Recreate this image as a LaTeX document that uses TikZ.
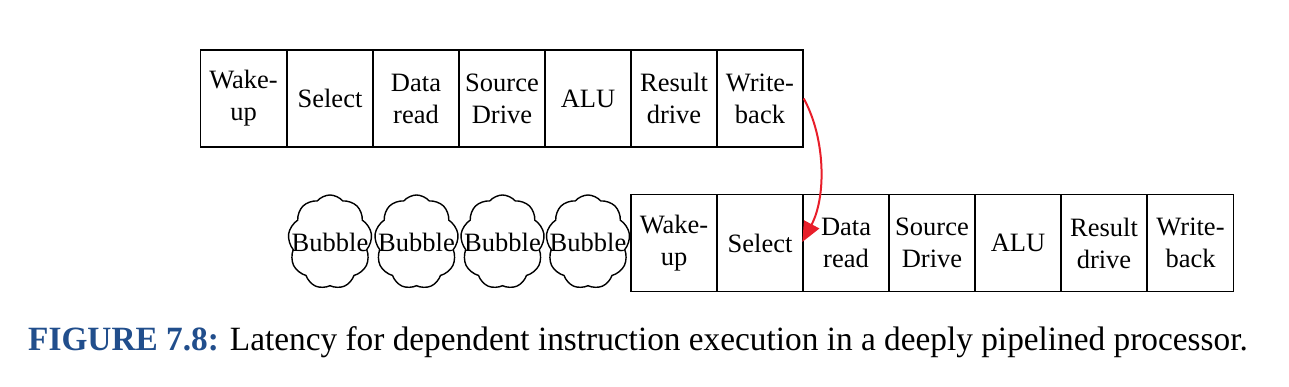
\documentclass[tikz,border=0pt]{standalone}
\usepackage{fontspec}
\setmainfont{Liberation Serif}
\usetikzlibrary{shapes.symbols,arrows.meta}
\definecolor{capblue}{RGB}{33,78,140}
\definecolor{arrred}{RGB}{232,30,42}
\begin{document}
\begin{tikzpicture}[x=1pt,y=1pt,
  stage/.style={draw,line width=1.4pt,minimum width=86pt,minimum height=97pt,inner sep=0pt,
    align=center,font=\fontsize{26.5}{32}\selectfont},
  bubble/.style={draw,line width=1.4pt,cloud,cloud puffs=9,cloud puff arc=100,aspect=0.88,
    minimum width=84pt,minimum height=94pt,inner sep=0pt,
    label={[font=\fontsize{26.5}{32}\selectfont,inner sep=0pt]center:Bubble}},
  dep/.style={draw=arrred,line width=2pt,-{Triangle[length=20pt,width=17pt]}}]
\useasboundingbox (0,0) rectangle (1289,387);
% top row
\node[stage] (t1) at (243.5,288.5) {Wake-\\up};
\node[stage] (t2) at (330,288.5) {Select};
\node[stage] (t3) at (416,288.5) {Data\\read};
\node[stage] (t4) at (502,288.5) {Source\\Drive};
\node[stage] (t5) at (588,288.5) {ALU};
\node[stage] (t6) at (674,288.5) {Result\\drive};
\node[stage] (t7) at (760,288.5) {Write-\\back};
% bubbles
\node[bubble] (c1) at (330,145) {};
\node[bubble] (c2) at (416.5,145) {};
\node[bubble] (c3) at (502.5,145) {};
\node[bubble] (c4) at (588,145) {};
% bottom row
\node[stage] (b1) at (674,144) {Wake-\\up};
\node[stage] (b2) at (760,144) {Select};
\node[stage] (b3) at (846,144) {Data\\read};
\node[stage] (b4) at (932,144) {Source\\Drive};
\node[stage] (b5) at (1018,144) {ALU};
\node[stage] (b6) at (1104,144) {Result\\drive};
\node[stage] (b7) at (1190.5,144) {Write-\\back};
% dependency arrow
\draw[dep] (t7.east) .. controls +(22,-40) and +(24,45) .. ([yshift=1pt]b3.west);
% caption
\node[anchor=base west,inner sep=0pt] (cap) at (28,36)
  {\scalebox{0.98}[1]{\fontsize{34}{40}\selectfont\textcolor{capblue}{\textbf{FIGURE 7.8:}} Latency for dependent instruction execution in a deeply pipelined processor.}};
\end{tikzpicture}
\end{document}
